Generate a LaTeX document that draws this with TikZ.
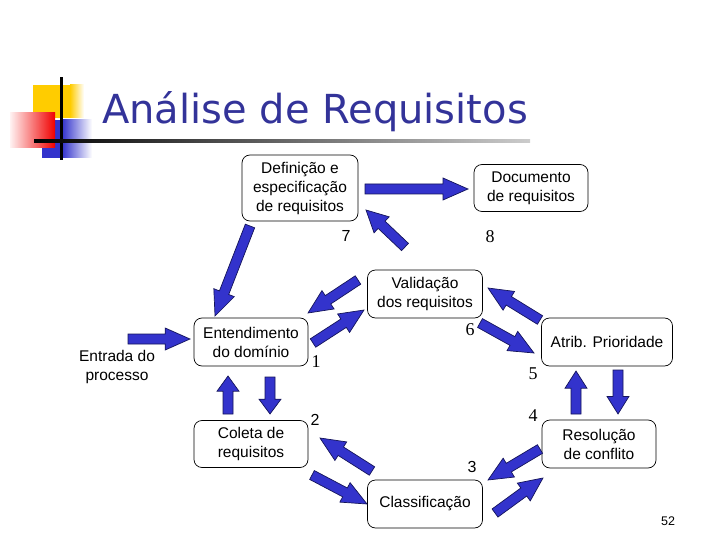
\documentclass[tikz,border=0pt]{standalone}
\usepackage{fontspec}
\setsansfont{Liberation Sans}
\newfontfamily\numserif{Liberation Serif}
\newfontfamily\titlefont{DejaVu Sans}
\usetikzlibrary{calc}

\definecolor{arrfill}{RGB}{51,51,204}
\definecolor{arredge}{RGB}{20,20,90}
\definecolor{titleblue}{RGB}{51,51,153}
\definecolor{logoyellow}{RGB}{255,204,0}
\definecolor{logored}{RGB}{240,0,0}
\definecolor{logoblue}{RGB}{51,51,204}

\newcommand{\blockarrow}[2]{%
  \path let \p1=($(#2)-(#1)$) in \pgfextra{%
    \pgfmathsetmacro\barang{atan2(\y1,\x1)}\global\let\barang\barang
    \pgfmathsetmacro\barlen{veclen(\x1,\y1)}\global\let\barlen\barlen
    \pgfmathsetmacro\barhead{min(25,0.4*\barlen)}\global\let\barhead\barhead};
  \filldraw[blockarr, shift={(#1)}, rotate=\barang]
    (0pt,5pt) -- ({\barlen pt-\barhead pt},5pt) -- ({\barlen pt-\barhead pt},11pt)
    -- (\barlen pt,0pt) -- ({\barlen pt-\barhead pt},-11pt)
    -- ({\barlen pt-\barhead pt},-5pt) -- (0pt,-5pt) -- cycle;}

\tikzset{
  stage/.style={draw, rounded corners=8pt, line width=0.7pt, align=center, inner sep=0pt,
    font=\sffamily\fontsize{15.5}{19}\selectfont},
  blockarr/.style={fill=arrfill, draw=arredge, line width=0.7pt},
  numsans/.style={font=\sffamily\fontsize{16}{16}\selectfont},
  numser/.style={font=\numserif\fontsize{18}{18}\selectfont}
}

\begin{document}
\begin{tikzpicture}[x=1pt,y=-1pt]
\useasboundingbox (0,0) rectangle (720,540);

\fill[logoyellow] (33,85) rectangle (70,118);
\shade[left color=logoyellow, right color=white] (70,85) rectangle (84,118);
\fill[logoblue] (42,120) rectangle (62,158);
\shade[left color=logoblue, right color=white] (62,120) rectangle (92,158);
\shade[left color=red!5, right color=logored] (10,113) rectangle (55,148);
\fill[black] (60,77) rectangle (62.5,160);
\shade[left color=black, right color=black!20] (34,139.5) rectangle (530,142.5);

\node[font=\titlefont\fontsize{40}{40}\selectfont, text=titleblue, anchor=base] (title) at (315,124) {Análise de Requisitos};

\node[stage, minimum width=116, minimum height=66] (def) at (300,188) {Definição e\\especificação\\de requisitos};
\node[stage, minimum width=114, minimum height=47] (doc) at (531,188) {Documento\\de requisitos};
\node[stage, minimum width=115, minimum height=48] (val) at (425,294) {Validação\\dos requisitos};
\node[stage, minimum width=114, minimum height=48] (ent) at (251,342) {Entendimento\\do domínio};
\node[stage, minimum width=114, minimum height=47] (col) at (251,444) {Coleta de\\requisitos};
\node[stage, minimum width=115, minimum height=48] (cla) at (425,504) {Classificação};
\node[stage, minimum width=131, minimum height=48] (atr) at (607,342) {Atrib. Prioridade};
\node[stage, minimum width=114, minimum height=48] (res) at (599,444) {Resolução\\de conflito};
\node[stage, draw=none] (inp) at (117,367) {Entrada do\\processo};

\foreach \n/\x/\y in {inA/128/339, inB/190/339, ddA/365/189, ddB/468/189,
  vdA/405/247, vdB/366/210, deA/250/226, deB/215/316,
  veA/358/280, veB/308/313, evA/313/343, evB/364/310,
  avA/540/320, avB/488/288, vaA/480/323, vaB/534/353,
  ecA/270/377, ecB/270/414, ceA/228/414, ceB/228/376,
  kcA/372/471, kcB/320/438, ckA/312/475, ckB/367/504,
  rkA/540/449, rkB/488/480, krA/495/513, krB/543/478,
  arA/618/370, arB/618/414, raA/576/414, raB/576/371}
  \coordinate (\n) at (\x,\y);

\foreach \s/\t in {inA/inB, ddA/ddB, vdA/vdB, deA/deB, veA/veB, evA/evB, avA/avB, vaA/vaB,
  ecA/ecB, ceA/ceB, kcA/kcB, ckA/ckB, rkA/rkB, krA/krB, arA/arB, raA/raB}
  {\blockarrow{\s}{\t}}

\foreach \n/\x/\y/\z in {n7/346/236/7, n2/315/420/2, n3/472/467/3}
  \node[numsans] (\n) at (\x,\y) {\z};
\foreach \n/\x/\y/\z in {n8/490/237/8, n6/470/330/6, n1/316/362/1, n5/533/374/5, n4/533/416/4}
  \node[numser] (\n) at (\x,\y) {\z};

\node[font=\sffamily\fontsize{12.5}{12.5}\selectfont] (page) at (668,521) {52};
\end{tikzpicture}
\end{document}
